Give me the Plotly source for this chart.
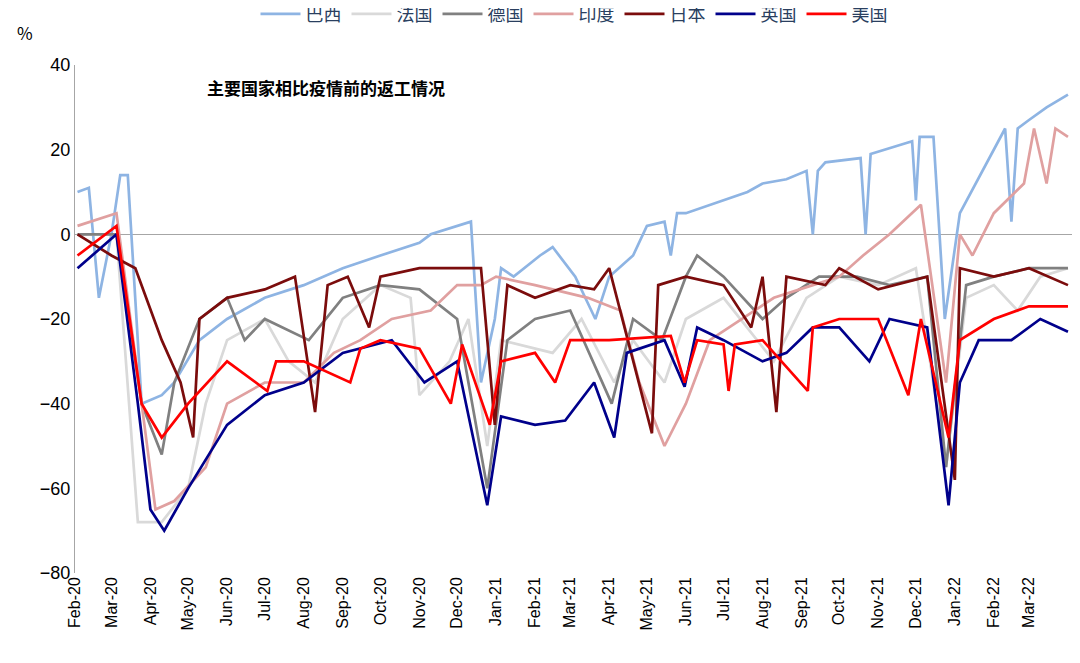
import plotly.graph_objs as go

# values (breakpoints, %)
brazil_x = ["2020-02-03", "2020-02-12", "2020-02-20", "2020-03-01", "2020-03-08", "2020-03-14", "2020-03-25",
            "2020-04-10", "2020-04-20", "2020-05-10", "2020-06-01", "2020-07-01", "2020-08-01", "2020-09-01",
            "2020-10-01", "2020-11-01", "2020-11-10", "2020-12-01", "2020-12-12", "2020-12-20", "2020-12-31",
            "2021-01-05", "2021-01-15", "2021-02-05", "2021-02-15", "2021-03-05", "2021-03-21", "2021-04-01",
            "2021-04-20", "2021-05-01", "2021-05-15", "2021-05-20", "2021-05-25", "2021-06-01", "2021-07-01",
            "2021-07-20", "2021-08-01", "2021-08-20", "2021-09-05", "2021-09-10", "2021-09-14", "2021-09-20",
            "2021-10-18", "2021-10-22", "2021-10-26", "2021-11-28", "2021-12-01", "2021-12-04", "2021-12-15",
            "2021-12-24", "2022-01-05", "2022-02-10", "2022-02-15", "2022-02-20", "2022-03-01", "2022-03-15",
            "2022-04-01"]
brazil_y = [10, 11, -15, 0, 14, 14, -40, -38, -35, -25, -20, -15, -12, -8, -5, -2, 0, 2, 3, -35, -20,
            -8, -10, -5, -3, -10, -20, -10, -5, 2, 3, -5, 5, 5, 8, 10, 12, 13, 15, 0, 15, 17, 18, 0, 19, 22,
            8, 23, 23, -20, 5, 25, 3, 25, 27, 30, 33]

france_x = ["2020-02-03", "2020-03-05", "2020-03-22", "2020-04-10", "2020-05-01", "2020-05-15", "2020-06-01",
            "2020-07-01", "2020-07-20", "2020-08-10", "2020-09-01", "2020-10-01", "2020-10-25", "2020-11-01",
            "2020-11-25", "2020-12-10", "2020-12-25", "2021-01-05", "2021-02-15", "2021-03-10", "2021-04-05",
            "2021-04-20", "2021-05-15", "2021-06-01", "2021-07-01", "2021-08-10", "2021-09-05", "2021-10-01",
            "2021-11-01", "2021-12-01", "2021-12-25", "2022-01-10", "2022-02-01", "2022-02-20", "2022-03-10",
            "2022-04-01"]
france_y = [0, 0, -68, -68, -60, -40, -25, -20, -30, -35, -20, -12, -15, -38, -30, -20, -50, -25, -28, -20,
            -35, -25, -35, -20, -15, -30, -15, -10, -12, -8, -55, -15, -12, -18, -10, -8]

germany_x = ["2020-02-03", "2020-03-05", "2020-03-25", "2020-04-10", "2020-04-20", "2020-05-10", "2020-06-01",
             "2020-06-15", "2020-07-01", "2020-08-05", "2020-09-01", "2020-10-01", "2020-11-01", "2020-12-01",
             "2020-12-25", "2021-01-10", "2021-02-01", "2021-03-01", "2021-04-03", "2021-04-20", "2021-05-13",
             "2021-06-01", "2021-06-10", "2021-07-01", "2021-08-01", "2021-08-20", "2021-09-15", "2021-10-15",
             "2021-11-10", "2021-12-10", "2021-12-25", "2022-01-10", "2022-02-01", "2022-03-01", "2022-04-01"]
germany_y = [0, 0, -40, -52, -35, -20, -15, -25, -20, -25, -15, -12, -13, -20, -60, -25, -20, -18, -40, -20,
             -25, -10, -5, -10, -20, -15, -10, -10, -12, -10, -55, -12, -10, -8, -8]

india_x = ["2020-02-03", "2020-03-05", "2020-03-25", "2020-04-05", "2020-04-20", "2020-05-15", "2020-06-01",
           "2020-07-01", "2020-08-01", "2020-08-25", "2020-09-15", "2020-10-10", "2020-11-10", "2020-12-01",
           "2020-12-20", "2021-01-01", "2021-02-01", "2021-03-15", "2021-04-10", "2021-04-25", "2021-05-15",
           "2021-06-01", "2021-06-20", "2021-07-15", "2021-08-10", "2021-09-10", "2021-10-01", "2021-10-20",
           "2021-11-10", "2021-12-05", "2021-12-25", "2022-01-05", "2022-01-15", "2022-02-01", "2022-02-25",
           "2022-03-05", "2022-03-15", "2022-03-22", "2022-04-01"]
india_y = [2, 5, -40, -65, -63, -55, -40, -35, -35, -28, -25, -20, -18, -12, -12, -10, -12, -15, -18, -35,
           -50, -40, -25, -20, -15, -12, -10, -5, 0, 7, -35, 0, -5, 5, 12, 25, 12, 25, 23]

japan_x = ["2020-02-03", "2020-03-01", "2020-03-20", "2020-04-10", "2020-04-25", "2020-05-05", "2020-05-10",
           "2020-06-01", "2020-07-01", "2020-07-25", "2020-08-10", "2020-08-20", "2020-09-05", "2020-09-22",
           "2020-10-01", "2020-11-01", "2020-12-20", "2020-12-31", "2021-01-10", "2021-02-01", "2021-03-01",
           "2021-03-20", "2021-04-01", "2021-05-05", "2021-05-10", "2021-06-01", "2021-07-01", "2021-07-23",
           "2021-08-01", "2021-08-12", "2021-08-20", "2021-09-20", "2021-10-01", "2021-11-01", "2021-12-10",
           "2022-01-01", "2022-01-05", "2022-02-01", "2022-03-01", "2022-04-01"]
japan_y = [0, -5, -8, -25, -35, -48, -20, -15, -13, -10, -42, -12, -10, -22, -10, -8, -8, -45, -12, -15,
           -12, -13, -8, -47, -12, -10, -12, -22, -10, -42, -10, -12, -8, -13, -10, -58, -8, -10, -8, -12]

uk_x = ["2020-02-03", "2020-03-05", "2020-03-22", "2020-04-01", "2020-04-12", "2020-05-01", "2020-06-01",
        "2020-07-01", "2020-08-01", "2020-09-01", "2020-10-10", "2020-11-05", "2020-12-01", "2020-12-25",
        "2021-01-05", "2021-02-01", "2021-02-25", "2021-03-20", "2021-04-05", "2021-04-15", "2021-05-15",
        "2021-05-31", "2021-06-10", "2021-07-01", "2021-08-01", "2021-08-20", "2021-09-10", "2021-10-01",
        "2021-10-25", "2021-11-10", "2021-12-10", "2021-12-27", "2022-01-05", "2022-01-20", "2022-02-15",
        "2022-03-10", "2022-04-01"]
uk_y = [-8, 0, -40, -65, -70, -60, -45, -38, -35, -28, -25, -35, -30, -64, -43, -45, -44, -35, -48, -28,
        -25, -36, -22, -25, -30, -28, -22, -22, -30, -20, -22, -64, -35, -25, -25, -20, -23]

us_x = ["2020-02-03", "2020-03-05", "2020-03-25", "2020-04-10", "2020-05-01", "2020-06-01", "2020-07-03",
        "2020-07-10", "2020-08-01", "2020-09-07", "2020-09-15", "2020-10-01", "2020-11-01", "2020-11-26",
        "2020-12-05", "2020-12-27", "2021-01-05", "2021-02-01", "2021-02-17", "2021-03-01", "2021-04-01",
        "2021-05-20", "2021-05-31", "2021-06-10", "2021-07-01", "2021-07-05", "2021-07-10", "2021-08-01",
        "2021-09-06", "2021-09-10", "2021-10-01", "2021-11-01", "2021-11-25", "2021-12-05", "2021-12-27",
        "2022-01-05", "2022-02-01", "2022-03-01", "2022-04-01"]
us_y = [-5, 2, -40, -48, -40, -30, -37, -30, -30, -35, -27, -25, -27, -40, -26, -45, -30, -28, -35, -25,
        -25, -24, -35, -25, -26, -37, -26, -25, -37, -22, -20, -20, -38, -20, -48, -25, -20, -17, -17]

month_ticks = ["2020-02-01", "2020-03-01", "2020-04-01", "2020-05-01", "2020-06-01", "2020-07-01",
               "2020-08-01", "2020-09-01", "2020-10-01", "2020-11-01", "2020-12-01", "2021-01-01",
               "2021-02-01", "2021-03-01", "2021-04-01", "2021-05-01", "2021-06-01", "2021-07-01",
               "2021-08-01", "2021-09-01", "2021-10-01", "2021-11-01", "2021-12-01", "2022-01-01",
               "2022-02-01", "2022-03-01"]

series = [
    ("巴西", brazil_x, brazil_y, "#8EB4E3"),
    ("法国", france_x, france_y, "#D9D9D9"),
    ("德国", germany_x, germany_y, "#808080"),
    ("印度", india_x, india_y, "#E0A0A0"),
    ("日本", japan_x, japan_y, "#7B0C0C"),
    ("英国", uk_x, uk_y, "#00008B"),
    ("美国", us_x, us_y, "#FF0000"),
]

fig = go.Figure()
for name, xs, ys, color in series:
    fig.add_trace(go.Scatter(x=xs, y=ys, mode="lines", name=name, line=dict(color=color, width=2.7)))

fig.add_annotation(text="<b>主要国家相比疫情前的返工情况</b>", xref="paper", yref="paper", x=0.13, y=0.985,
                   xanchor="left", yanchor="top", showarrow=False, font=dict(size=17, color="black"))
fig.add_annotation(text="%", xref="paper", yref="paper", x=-0.06, y=1.035, xanchor="left", yanchor="bottom",
                   showarrow=False, font=dict(size=17, color="black"))

fig.update_xaxes(range=["2020-02-01", "2022-04-05"], tickvals=month_ticks, tickformat="%b-%y", tickangle=-90,
                 showgrid=False, showline=False, ticks="",
                 tickfont=dict(size=16, color="black", family="Liberation Sans"))
fig.update_yaxes(range=[-80, 40], dtick=20, showgrid=False, zeroline=True, zerolinecolor="#A6A6A6",
                 zerolinewidth=1, showline=True, linecolor="#A6A6A6",
                 tickfont=dict(size=18, color="black", family="Liberation Sans"))
fig.update_layout(
    width=1080, height=663, plot_bgcolor="white", paper_bgcolor="white",
    font=dict(family="Noto Sans CJK SC, Arial"),
    margin=dict(l=67, r=15, t=57, b=98, autoexpand=False),
    legend=dict(orientation="h", x=0.5, xanchor="center", y=1.1, yanchor="middle", font=dict(size=18),
                itemwidth=40),
    showlegend=True,
)
fig.write_html("out.html")
